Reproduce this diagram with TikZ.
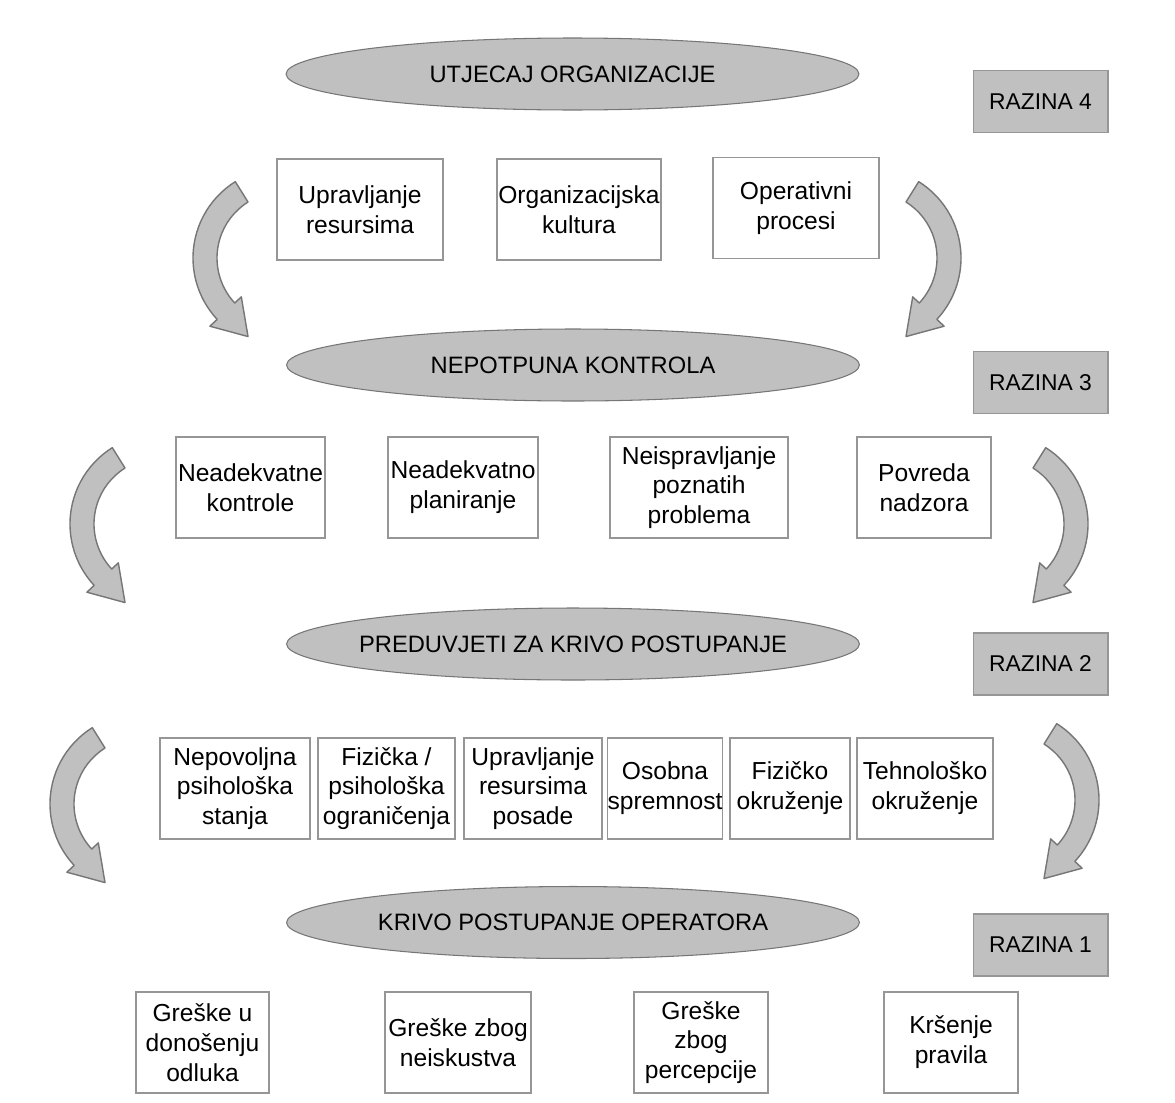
\documentclass[tikz,border=0pt]{standalone}
\usepackage{fontspec}
\setmainfont{Liberation Sans}
\usetikzlibrary{shapes.geometric}
\definecolor{siva}{RGB}{192,192,192}
\definecolor{tamnosiva}{RGB}{118,118,118}
\definecolor{rubsiva}{RGB}{150,150,150}
\tikzset{
  elipsa/.style={ellipse, draw=tamnosiva, fill=siva, line width=0.6pt,
    minimum width=11.46cm, minimum height=1.44cm, inner ysep=0pt,
    inner xsep=-2cm, font=\fontsize{13.5}{16}\selectfont},
  razina/.style={rectangle, draw=rubsiva, fill=siva, line width=0.6pt,
    minimum width=2.7cm, minimum height=1.24cm, inner sep=0pt,
    font=\fontsize{13}{16}\selectfont},
  okvir/.style={rectangle, draw=rubsiva, line width=0.8pt,
    minimum height=2.02cm, inner sep=0pt, align=center,
    font=\fontsize{14}{17}\selectfont},
  strelica/.style={draw=tamnosiva, fill=siva, line width=0.8pt, line join=round},
  lijevi luk/.style={insert path={(122:90) arc[start angle=122, end angle=223, radius=90]
    -- (223:100) -- (246:86) -- (223:57) -- (223:66)
    arc[start angle=223, end angle=122, radius=66] -- cycle}},
  desni luk/.style={insert path={(58:90) arc[start angle=58, end angle=-43, radius=90]
    -- (-43:100) -- (-66:86) -- (-43:57) -- (-43:66)
    arc[start angle=-43, end angle=58, radius=66] -- cycle}}
}

\begin{document}
\begin{tikzpicture}[x=0.02cm, y=0.02cm]

    \useasboundingbox (0,0) rectangle (1175,-1102);

    %Elipse
    \node[elipsa] (org) at (572.5,-74) {UTJECAJ ORGANIZACIJE};
    \node[elipsa] (kontrola) at (573,-365) {NEPOTPUNA KONTROLA};
    \node[elipsa] (preduvjeti) at (573,-644) {PREDUVJETI ZA KRIVO POSTUPANJE};
    \node[elipsa] (operator) at (573,-922.5) {KRIVO POSTUPANJE OPERATORA};

    %Razine
    \node[razina] (r4) at (1040.5,-101.5) {RAZINA 4};
    \node[razina] (r3) at (1040.5,-382.5) {RAZINA 3};
    \node[razina] (r2) at (1040.5,-664) {RAZINA 2};
    \node[razina] (r1) at (1040.5,-945) {RAZINA 1};

    %Razina 4
    \node[okvir, minimum width=3.32cm] (resursi) at (360,-209.5)
        {Upravljanje\\resursima};
    \node[okvir, minimum width=3.28cm] (kultura) at (579,-209.5)
        {Organizacijska\\kultura};
    \node[okvir, minimum width=3.32cm] (procesi) at (796,-208)
        {Operativni\\procesi};

    %Razina 3
    \node[okvir, minimum width=2.98cm] (kontrole) at (250.5,-487.5)
        {Neadekvatne\\kontrole};
    \node[okvir, minimum width=3.00cm] (planiranje) at (463,-487.5)
        {Neadekvatno\\planiranje};
    \node[okvir, minimum width=3.56cm] (problemi) at (699,-487.5)
        {Neispravljanje\\poznatih\\problema};
    \node[okvir, minimum width=2.68cm] (nadzor) at (924,-487.5)
        {Povreda\\nadzora};

    %Razina 2
    \node[okvir, minimum width=3.00cm] (stanja) at (235,-788.5)
        {Nepovoljna\\psihološka\\stanja};
    \node[okvir, minimum width=2.74cm] (ogranicenja) at (386.5,-788.5)
        {Fizička /\\psihološka\\ograničenja};
    \node[okvir, minimum width=2.76cm] (posada) at (533,-788.5)
        {Upravljanje\\resursima\\posade};
    \node[okvir, minimum width=2.24cm] (spremnost) at (665,-788.5)
        {Osobna\\spremnost};
    \node[okvir, minimum width=2.40cm] (fizicko) at (790,-788.5)
        {Fizičko\\okruženje};
    \node[okvir, minimum width=2.72cm] (tehnolosko) at (925,-788.5)
        {Tehnološko\\okruženje};

    %Razina 1
    \node[okvir, minimum width=2.66cm] (odluke) at (202.5,-1042.5)
        {Greške u\\donošenju\\odluka};
    \node[okvir, minimum width=2.92cm] (neiskustvo) at (458,-1042.5)
        {Greške zbog\\neiskustva};
    \node[okvir, minimum width=2.68cm] (percepcija) at (701,-1042.5)
        {Greške\\zbog\\percepcije};
    \node[okvir, minimum width=2.68cm] (pravila) at (951,-1042.5)
        {Kršenje\\pravila};

    %Strelice
    \draw[strelica, shift={(283,-258)}] [lijevi luk];
    \draw[strelica, shift={(871,-258)}] [desni luk];
    \draw[strelica, shift={(160,-524)}] [lijevi luk];
    \draw[strelica, shift={(998,-524)}] [desni luk];
    \draw[strelica, shift={(140,-804)}] [lijevi luk];
    \draw[strelica, shift={(1009,-800)}] [desni luk];

\end{tikzpicture}
\end{document}
